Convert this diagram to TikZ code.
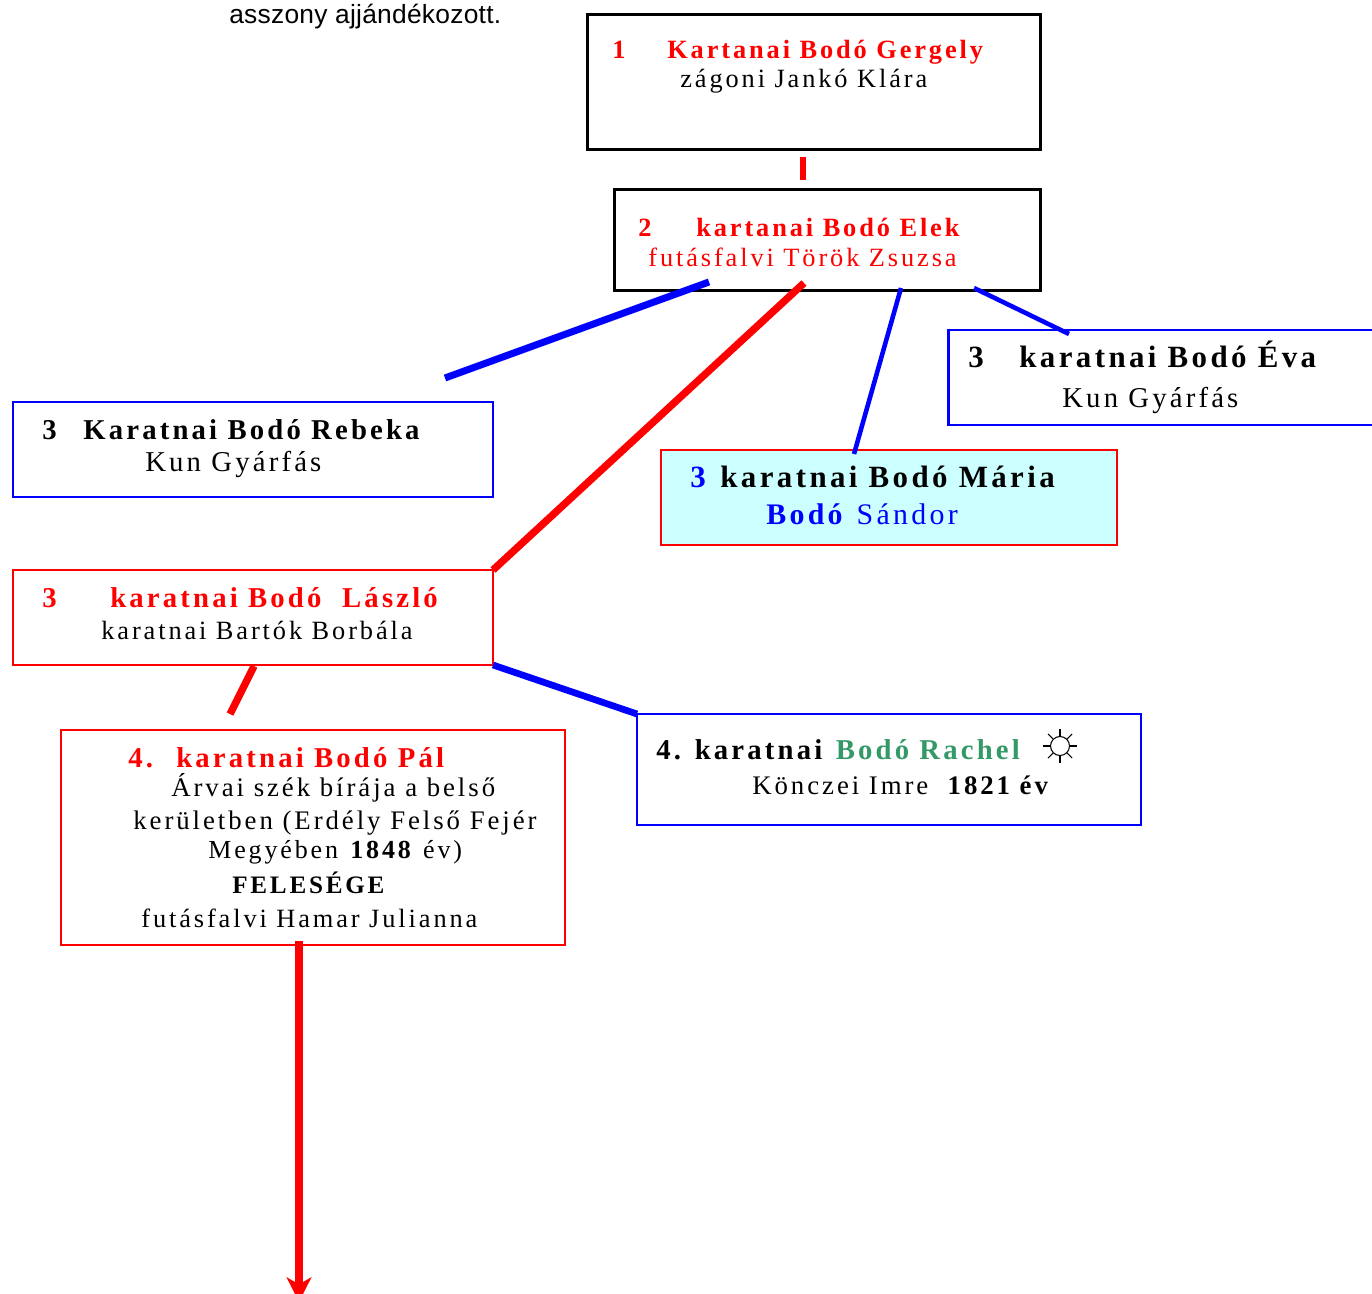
\documentclass[tikz,border=0pt]{standalone}
\usepackage{fontspec}
\usepackage{xcolor}
\usetikzlibrary{arrows.meta}
\setmainfont{Liberation Serif}
\newfontfamily\szellos[LetterSpace=11]{Liberation Serif}
\newfontfamily\fejlec[LetterSpace=1]{Liberation Sans}
\definecolor{pirosvonal}{HTML}{FF0000}
\definecolor{kekvonal}{HTML}{0000FF}
\definecolor{zold}{HTML}{339966}
\definecolor{halvany}{HTML}{CCFFFF}
\tikzset{
  doboz/.style={shape=rectangle,inner sep=0pt,line width=1.3pt},
  fekete/.style={doboz,draw=black,line width=1.7pt},
  kek/.style={doboz,draw=kekvonal},
  piros/.style={doboz,draw=pirosvonal},
  kissor/.style={anchor=base west,inner sep=0pt,font=\fontsize{15}{17}\selectfont\szellos},
  kozepsor/.style={anchor=base west,inner sep=0pt,font=\fontsize{15.25}{17}\selectfont\szellos},
  sor/.style={anchor=base west,inner sep=0pt,font=\fontsize{16.35}{18}\selectfont\szellos},
  nagysor/.style={anchor=base west,inner sep=0pt,font=\fontsize{17.6}{20}\selectfont\szellos},
  kotes/.style={line width=#1,line cap=butt}
}
\begin{document}
\begin{tikzpicture}[x=0.02cm,y=-0.02cm]
      \useasboundingbox (0,0) rectangle (1372,1294);
      % boxes
      \node[fekete,minimum width=9.08cm,minimum height=2.72cm] (gergely) at (814,82) {};
      \node[fekete,minimum width=8.54cm,minimum height=2.04cm] (elek) at (827.5,240) {};
      \node[kek,minimum width=9.6cm,minimum height=1.9cm] (rebeka) at (253,449.5) {};
      \node[kek,minimum width=8.62cm,minimum height=1.9cm] (eva) at (1164,377.5) {};
      \node[piros,fill=halvany,minimum width=9.12cm,minimum height=1.9cm] (maria) at (889,497.5) {};
      \node[piros,minimum width=9.6cm,minimum height=1.9cm] (laszlo) at (253,617.5) {};
      \node[piros,minimum width=10.08cm,minimum height=4.3cm] (pal) at (313,837.5) {};
      \node[kek,minimum width=10.08cm,minimum height=2.22cm] (rachel) at (889,769.5) {};
      % free ends of the connectors
      \coordinate (g1) at (803,157);
      \coordinate (g2) at (803,180);
      \coordinate (e1) at (709,282);
      \coordinate (r1) at (445,378);
      \coordinate (e2) at (804,283);
      \coordinate (l1) at (493,570);
      \coordinate (e3) at (901,288);
      \coordinate (m1) at (854,454);
      \coordinate (e4) at (974,288);
      \coordinate (v1) at (1069,334);
      \coordinate (l2) at (254,666);
      \coordinate (p1) at (230,714);
      \coordinate (l3) at (493,665);
      \coordinate (c1) at (637,714);
      \coordinate (p2) at (299,941);
      \coordinate (le) at (299,1302);
      \path[draw=pirosvonal]
      (g1) edge[kotes=3.2pt] (g2)
      (e2) edge[kotes=4.2pt] (l1)
      (l2) edge[kotes=4.2pt] (p1);
      \path[draw=kekvonal]
      (e1) edge[kotes=4pt] (r1)
      (e3) edge[kotes=2.6pt] (m1)
      (e4) edge[kotes=2.6pt] (v1)
      (l3) edge[kotes=3.8pt] (c1);
      \draw[pirosvonal,line width=4.5pt,-{Stealth[length=14pt,width=14pt,inset=4pt]}] (p2) -- (le);
      % texts
      \node[anchor=base west,inner sep=0pt,font=\fontsize{15}{17}\selectfont\fejlec] (felirat) at (229,24) {asszony ajjándékozott.};
      \node[kissor,text=pirosvonal] (g0) at (612,59) {\bfseries 1};
      \node[kissor,text=pirosvonal] (gn) at (667,59) {\bfseries Kartanai Bodó Gergely};
      \node[kissor] (gf) at (680,88) {zágoni Jankó Klára};
      \node[kissor,text=pirosvonal] (e0) at (638,236) {\bfseries 2};
      \node[kissor,text=pirosvonal] (en) at (696,236) {\bfseries kartanai Bodó Elek};
      \node[kissor,text=pirosvonal] (ef) at (648,266) {futásfalvi Török Zsuzsa};
      \node[nagysor] (v0) at (968,367) {\bfseries 3};
      \node[nagysor] (vn) at (1019,367) {\bfseries karatnai Bodó Éva};
      \node[sor] (vf) at (1062,407) {Kun Gyárfás};
      \node[sor] (r0) at (42,439) {\bfseries 3};
      \node[sor] (rn) at (83,439) {\bfseries Karatnai Bodó Rebeka};
      \node[sor] (rf) at (145,471) {Kun Gyárfás};
      \node[nagysor,text=kekvonal] (m0) at (690,487) {\bfseries 3};
      \node[nagysor] (mn) at (720,487) {\bfseries karatnai Bodó Mária};
      \node[kissor,text=kekvonal] (mf) at (766,524) {\fontsize{17}{20}\selectfont\textbf{Bodó} Sándor};
      \node[sor,text=pirosvonal] (l0) at (42,607) {\bfseries 3};
      \node[sor,text=pirosvonal] (ln) at (110,607) {\bfseries karatnai Bodó\ \ László};
      \node[kissor] (lf) at (101,639) {karatnai Bartók Borbála};
      \node[sor,text=pirosvonal] (p0) at (128,767) {\bfseries 4.};
      \node[sor,text=pirosvonal] (pn) at (176,767) {\bfseries karatnai Bodó Pál};
      \node[kozepsor] (pa) at (171,796) {Árvai szék bírája a belső};
      \node[kozepsor] (pb) at (133,829) {kerületben (Erdély Felső Fejér};
      \node[kissor] (pc) at (208,858) {\fontsize{14.8}{17}\selectfont Megyében \textbf{1848} év)};
      \node[kissor] (pd) at (232,893) {\fontsize{14.3}{16}\selectfont\bfseries FELESÉGE};
      \node[kissor] (pf) at (141,927) {futásfalvi Hamar Julianna};
      \node[sor] (c0) at (656,759) {\textbf{4. karatnai} \textcolor{zold}{\textbf{Bodó Rachel}}};
      \node[kozepsor] (cf) at (752,794) {Könczei Imre\ \ \textbf{1821 év}};
      % sun sign
      \node[shape=circle,draw=black,line width=0.6pt,inner sep=0pt,minimum size=0.38cm] (nap) at (1060,746) {};
      \foreach \a in {0,45,...,315}
        \draw[line width=0.6pt] (nap) ++(\a:10) -- ++(\a:7);
    \end{tikzpicture}
\end{document}
